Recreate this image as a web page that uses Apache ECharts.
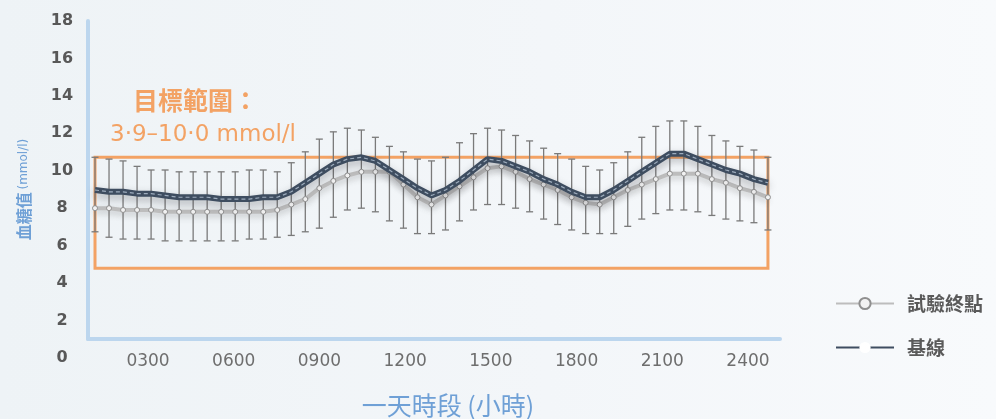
<!DOCTYPE html>
<html>
<head>
<meta charset="utf-8">
<script src="https://cdn.jsdelivr.net/npm/echarts@6/dist/echarts.min.js"></script>
<style>
  html, body { margin: 0; padding: 0; }
  #chart { width: 996px; height: 419px; background: linear-gradient(90deg, #eef3f6 0%, #f3f6f9 55%, #f8fafc 100%); }
</style>
</head>
<body>
<div id="chart"></div>
<script>
// Half-hourly readings over one day (hours)
const hours = [0, 0.5, 1, 1.5, 2, 2.5, 3, 3.5, 4, 4.5, 5, 5.5, 6, 6.5, 7, 7.5, 8, 8.5, 9, 9.5,
  10, 10.5, 11, 11.5, 12, 12.5, 13, 13.5, 14, 14.5, 15, 15.5, 16, 16.5, 17, 17.5, 18, 18.5,
  19, 19.5, 20, 20.5, 21, 21.5, 22, 22.5, 23, 23.5, 24];

// Mean glucose, mmol/l
const baseline = [8.2, 8.1, 8.1, 8.0, 8.0, 7.9, 7.8, 7.8, 7.8, 7.7, 7.7, 7.7, 7.8, 7.8, 8.1, 8.6,
  9.1, 9.6, 9.9, 10.0, 9.8, 9.3, 8.8, 8.3, 7.9, 8.2, 8.7, 9.3, 9.9, 9.8, 9.5, 9.2, 8.8, 8.5,
  8.1, 7.8, 7.8, 8.2, 8.7, 9.2, 9.7, 10.2, 10.2, 9.9, 9.6, 9.3, 9.1, 8.8, 8.6];
const endpoint = [7.2, 7.2, 7.1, 7.1, 7.1, 7.0, 7.0, 7.0, 7.0, 7.0, 7.0, 7.0, 7.0, 7.1, 7.4, 7.7,
  8.3, 8.7, 9.0, 9.2, 9.2, 9.2, 8.5, 7.8, 7.4, 7.9, 8.4, 8.9, 9.4, 9.5, 9.2, 8.8, 8.5, 8.2,
  7.8, 7.5, 7.4, 7.8, 8.2, 8.5, 8.8, 9.1, 9.1, 9.1, 8.8, 8.6, 8.3, 8.1, 7.8];

// Spread whiskers
const errHigh = [10.0, 9.9, 9.8, 9.5, 9.3, 9.3, 9.2, 9.2, 9.2, 9.2, 9.2, 9.3, 9.3, 9.2, 9.7, 10.3,
  11.0, 11.4, 11.6, 11.5, 11.1, 10.6, 10.3, 9.9, 9.8, 10.0, 10.8, 11.3, 11.6, 11.5, 11.2, 10.9,
  10.5, 10.2, 9.9, 9.5, 9.3, 9.7, 10.3, 11.1, 11.7, 12.0, 12.0, 11.7, 11.2, 10.9, 10.6, 10.4, 10.0];
const errLow = [5.9, 5.6, 5.5, 5.5, 5.5, 5.4, 5.4, 5.4, 5.4, 5.4, 5.4, 5.5, 5.5, 5.6, 5.7, 5.9,
  6.1, 6.7, 7.1, 7.2, 7.0, 6.5, 6.1, 5.8, 5.8, 6.0, 6.5, 7.1, 7.4, 7.4, 7.2, 7.0, 6.6, 6.3,
  6.0, 5.8, 5.8, 5.8, 6.2, 6.6, 6.9, 7.1, 7.1, 7.0, 6.8, 6.6, 6.5, 6.4, 6.0];

// Target band, mmol/l
const targetLow = 3.9;
const targetHigh = 10.0;

// Tick labels
const xTickLabels = ['0300', '0600', '0900', '1200', '1500', '1800', '2100', '2400'];
const seriesNames = ['試驗終點', '基線'];

const AXIS_BLUE = '#bcd6ee';
const TITLE_BLUE = '#6fa0d6';
const ORANGE = '#f3a264';
const LATIN = '"DejaVu Sans", "Noto Sans CJK TC", sans-serif';
const CJK = '"Noto Sans CJK TC", "Noto Sans", sans-serif';

const chart = echarts.init(document.getElementById('chart'), null, { renderer: 'canvas' });

const pairs = (ys) => hours.map((h, i) => [h, ys[i]]);

chart.setOption({
  animation: false,
  textStyle: { fontFamily: CJK },
  title: [
    {
      text: '目標範圍：', left: 133, top: 88, padding: 0,
      textStyle: { color: ORANGE, fontSize: 25, fontWeight: 'bold', fontFamily: CJK }
    },
    {
      text: '3·9–10·0 mmol/l', left: 110, top: 124, padding: 0,
      textStyle: { color: ORANGE, fontSize: 23, fontWeight: 'normal', fontFamily: LATIN }
    }
  ],
  legend: {
    data: seriesNames,
    orient: 'vertical',
    left: 830,
    top: 289,
    itemWidth: 58,
    itemHeight: 14,
    itemGap: 25,
    textStyle: { color: '#5a5a5a', fontSize: 19, fontWeight: 'bold', fontFamily: CJK, padding: [0, 0, 0, 8] }
  },
  grid: [
    // plotting area
    { left: 88, right: 216, top: 21, bottom: 80 },
    // value labels for the glucose scale
    { left: 88, right: 216, top: 21, bottom: 61 },
    // time-of-day labels
    { left: 62.3, width: 771.4, top: 300, bottom: 74 }
  ],
  xAxis: [
    {
      gridIndex: 0, type: 'value', min: -0.25, max: 24.43,
      axisLine: { show: true, onZero: false, lineStyle: { color: AXIS_BLUE, width: 4 } },
      axisTick: { show: false }, axisLabel: { show: false }, splitLine: { show: false }
    },
    { gridIndex: 1, type: 'value', min: 0, max: 1, show: false },
    {
      gridIndex: 2, type: 'value', min: 0, max: 27, interval: 3,
      axisLine: { show: false }, axisTick: { show: false }, splitLine: { show: false },
      axisLabel: {
        margin: 8, color: '#6e6e6e', fontSize: 17, fontFamily: LATIN,
        formatter: (v) => (v >= 3 && v <= 24) ? xTickLabels[v / 3 - 1] : ''
      },
      name: '一天時段 (小時)', nameLocation: 'middle', nameGap: 48,
      nameTextStyle: { color: TITLE_BLUE, fontSize: 25, fontFamily: CJK }
    }
  ],
  yAxis: [
    {
      gridIndex: 0, type: 'value', min: 0, max: 17.5,
      axisLine: { show: true, onZero: false, lineStyle: { color: AXIS_BLUE, width: 4 } },
      axisTick: { show: false }, axisLabel: { show: false }, splitLine: { show: false }
    },
    {
      gridIndex: 1, type: 'value', min: 0, max: 18, interval: 2,
      axisLine: { show: false }, axisTick: { show: false }, splitLine: { show: false },
      axisLabel: { align: 'center', margin: 26, color: '#585858', fontSize: 16, fontWeight: 'bold', fontFamily: LATIN },
      name: '{a|血糖值} {u|(mmol/l)}', nameLocation: 'middle', nameGap: 56, nameRotate: 90,
      nameTextStyle: {
        color: TITLE_BLUE,
        rich: {
          a: { color: TITLE_BLUE, fontSize: 16, fontWeight: 'bold', fontFamily: CJK },
          u: { color: TITLE_BLUE, fontSize: 12, fontFamily: LATIN }
        }
      }
    },
    { gridIndex: 2, type: 'value', show: false }
  ],
  series: [
    {
      name: 'whiskers',
      type: 'custom',
      xAxisIndex: 0, yAxisIndex: 0,
      z: 2,
      data: hours.map((h, i) => [h, errLow[i], errHigh[i]]),
      renderItem: function (params, api) {
        const x = api.value(0);
        const top = api.coord([x, api.value(2)]);
        const bot = api.coord([x, api.value(1)]);
        const cap = 3.5;
        const style = { stroke: '#7a7a7a', lineWidth: 1.3 };
        return {
          type: 'group',
          children: [
            { type: 'line', shape: { x1: top[0], y1: top[1], x2: bot[0], y2: bot[1] }, style },
            { type: 'line', shape: { x1: top[0] - cap, y1: top[1], x2: top[0] + cap, y2: top[1] }, style },
            { type: 'line', shape: { x1: bot[0] - cap, y1: bot[1], x2: bot[0] + cap, y2: bot[1] }, style }
          ]
        };
      },
      markArea: {
        silent: true,
        itemStyle: { color: 'rgba(0,0,0,0)', borderColor: ORANGE, borderWidth: 3 },
        data: [[
          { xAxis: hours[0], yAxis: targetLow },
          { xAxis: hours[hours.length - 1], yAxis: targetHigh }
        ]]
      }
    },
    {
      name: seriesNames[0],
      type: 'line',
      xAxisIndex: 0, yAxisIndex: 0,
      z: 3,
      data: pairs(endpoint),
      symbol: 'circle',
      symbolSize: 5,
      showSymbol: true,
      itemStyle: { color: '#f2f2f2', borderColor: '#8f8f8f', borderWidth: 1 },
      lineStyle: {
        color: '#bdbdbd', width: 4,
        shadowBlur: 6, shadowOffsetY: 3, shadowColor: 'rgba(80,80,80,0.3)'
      }
    },
    {
      name: seriesNames[1],
      type: 'line',
      xAxisIndex: 0, yAxisIndex: 0,
      z: 4,
      data: pairs(baseline),
      symbol: 'circle',
      symbolSize: 5,
      showSymbol: false,
      itemStyle: { color: '#ffffff', borderColor: '#3e4d60', borderWidth: 0 },
      lineStyle: {
        color: '#3e4d60', width: 6,
        shadowBlur: 8, shadowOffsetY: 4, shadowColor: 'rgba(40,40,50,0.35)'
      }
    },
    {
      name: 'baseline-sheen',
      type: 'line',
      xAxisIndex: 0, yAxisIndex: 0,
      z: 5,
      data: pairs(baseline),
      symbol: 'none',
      silent: true,
      lineStyle: { color: 'rgba(190,204,220,0.75)', width: 1.2, type: [4, 3] }
    }
  ]
});
</script>
</body>
</html>
